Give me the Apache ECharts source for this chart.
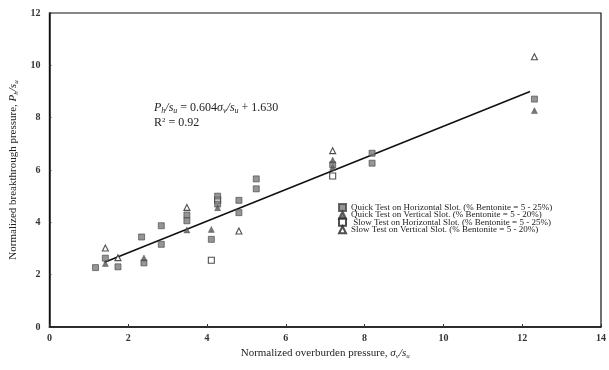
<!DOCTYPE html>
<html>
<head>
<meta charset="utf-8">
<script src="https://cdn.jsdelivr.net/npm/echarts@6/dist/echarts.min.js"></script>
<style>
  html, body { margin: 0; padding: 0; background: #fff; }
  #chart { width: 609px; height: 370px; }
</style>
</head>
<body>
<div id="chart"></div>
<script>
// data: [sigma_v/s_u, P_h/s_u]
const quickHorizontal = [
  [1.17, 2.27], [1.42, 2.63], [1.74, 2.30], [2.34, 3.44], [2.40, 2.45],
  [2.84, 3.87], [2.84, 3.16], [3.49, 4.28], [3.49, 4.06], [4.11, 3.35],
  [4.27, 5.00], [4.27, 4.70], [4.81, 4.84], [4.81, 4.37], [5.25, 5.66],
  [5.25, 5.28], [7.19, 6.20], [8.19, 6.64], [8.19, 6.26], [12.31, 8.71]
];
const quickVertical = [
  [1.42, 2.43], [2.40, 2.64], [3.49, 3.71], [4.11, 3.73], [4.27, 4.56],
  [7.19, 6.38], [7.19, 6.10], [12.31, 8.27]
];
const slowHorizontal = [
  [4.11, 2.55], [4.27, 4.85], [7.19, 5.77]
];
const slowVertical = [
  [1.42, 3.02], [1.74, 2.65], [3.49, 4.57], [4.81, 3.67], [7.19, 6.74], [12.31, 10.33]
];
// regression line P_h/s_u = 0.604 sigma_v/s_u + 1.630, drawn over the data range
const fitSlope = 0.604;
const fitIntercept = 1.630;
const fitRange = [1.4, 12.2];

const seriesNames = [
  'Quick Test on Horizontal Slot. (% Bentonite = 5 - 25%)',
  'Quick Test on Vertical Slot. (% Bentonite = 5 - 20%)',
  ' Slow Test on Horizontal Slot. (% Bentonite = 5 - 25%)',
  'Slow Test on Vertical Slot. (% Bentonite = 5 - 20%)'
];

const serif = '"Liberation Serif", "DejaVu Serif", serif';
const fitLine = fitRange.map(x => [x, fitSlope * x + fitIntercept]);

const chart = echarts.init(document.getElementById('chart'));
const option = {
  backgroundColor: '#fff',
  animation: false,
  grid: {
    left: 48, right: 5, top: 13, bottom: 43,
    show: true, borderColor: '#111', borderWidth: 1.2
  },
  legend: {
    orient: 'vertical',
    left: 333, top: 198,
    itemWidth: 7, itemHeight: 7, itemGap: -1.6,
    textStyle: { fontFamily: serif, fontSize: 9, color: '#222' },
    data: seriesNames.map(n => ({ name: n }))
  },
  xAxis: {
    type: 'value', min: 0, max: 14, interval: 2,
    name: 'Normalized overburden pressure, {i|σ}{s|v}{i|/s}{s|u}',
    nameLocation: 'middle', nameGap: 18,
    nameTextStyle: {
      fontFamily: serif, fontSize: 11, color: '#222',
      rich: {
        i: { fontFamily: serif, fontSize: 11, fontStyle: 'italic', color: '#222' },
        s: { fontFamily: serif, fontSize: 7, fontStyle: 'italic', color: '#222', padding: [5, 0, 0, 0] }
      }
    },
    axisLine: { lineStyle: { color: '#111', width: 1.5 } },
    axisTick: { inside: true, length: 3, lineStyle: { color: '#333' } },
    axisLabel: { fontFamily: serif, fontSize: 10, fontWeight: 'bold', color: '#333', margin: 6 },
    splitLine: { show: false }
  },
  yAxis: {
    type: 'value', min: 0, max: 12, interval: 2,
    name: 'Normalized breakthrough pressure, {i|P}{s|h}{i|/s}{s|u}',
    nameLocation: 'middle', nameGap: 25,
    nameTextStyle: {
      fontFamily: serif, fontSize: 11, color: '#222',
      rich: {
        i: { fontFamily: serif, fontSize: 11, fontStyle: 'italic', color: '#222' },
        s: { fontFamily: serif, fontSize: 7, fontStyle: 'italic', color: '#222', padding: [5, 0, 0, 0] }
      }
    },
    axisLine: { show: true, lineStyle: { color: '#111', width: 1.5 } },
    axisTick: { show: true, inside: true, length: 2, lineStyle: { color: '#333' } },
    axisLabel: { fontFamily: serif, fontSize: 10, fontWeight: 'bold', color: '#333', margin: 9 },
    splitLine: { show: false }
  },
  graphic: [
    {
      type: 'text', left: 154, top: 102,
      style: {
        text: '{i|P}{s|h}{i|/s}{s|u} = 0.604{i|σ}{s|v}{i|/s}{s|u} + 1.630',
        font: '12px ' + serif, fill: '#222',
        rich: {
          i: { font: 'italic 12px ' + serif, fill: '#222' },
          s: { font: 'italic 8px ' + serif, fill: '#222', padding: [5, 0, 0, 0] }
        }
      }
    },
    {
      type: 'text', left: 154, top: 117,
      style: {
        text: 'R{p|2} = 0.92',
        font: '12px ' + serif, fill: '#222',
        rich: { p: { font: '7px ' + serif, fill: '#222', padding: [0, 0, 5, 0] } }
      }
    }
  ],
  series: [
    {
      name: 'fit', type: 'line', data: fitLine, symbol: 'none', silent: true,
      lineStyle: { color: '#111', width: 1.6 }, z: 1
    },
    {
      name: seriesNames[0], type: 'scatter', data: quickHorizontal,
      symbol: 'rect', symbolSize: 6,
      itemStyle: { color: '#7a7a7a', borderColor: '#444', borderWidth: 0.8 }, z: 3
    },
    {
      name: seriesNames[1], type: 'scatter', data: quickVertical,
      symbol: 'triangle', symbolSize: 6,
      itemStyle: { color: '#555', borderColor: '#444', borderWidth: 0.5 }, z: 3
    },
    {
      name: seriesNames[2], type: 'scatter', data: slowHorizontal,
      symbol: 'rect', symbolSize: 6,
      itemStyle: { color: '#fff', borderColor: '#222', borderWidth: 1.1 }, z: 2
    },
    {
      name: seriesNames[3], type: 'scatter', data: slowVertical,
      symbol: 'triangle', symbolSize: 6,
      itemStyle: { color: '#fff', borderColor: '#222', borderWidth: 1.1 }, z: 2
    }
  ]
};
chart.setOption(option);
</script>
</body>
</html>
